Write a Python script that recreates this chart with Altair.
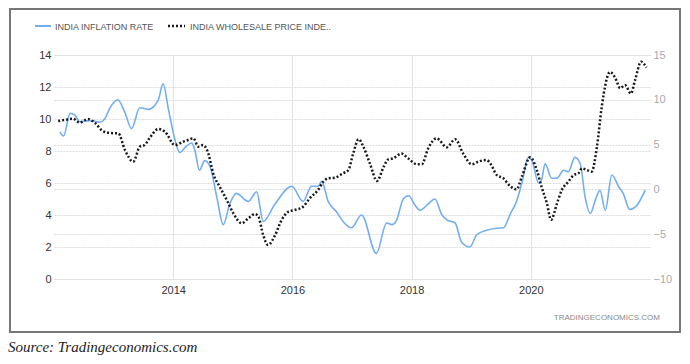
import altair as alt
import pandas as pd

# India inflation rate (CPI, %), left axis
cpi_year = [2012.10, 2012.16, 2012.27, 2012.35, 2012.43, 2012.60, 2012.77, 2012.85, 2012.94, 2013.07,
            2013.19, 2013.30, 2013.44, 2013.58, 2013.75, 2013.83, 2013.92, 2014.03, 2014.11, 2014.22,
            2014.31, 2014.36, 2014.44, 2014.53, 2014.62, 2014.73, 2014.84, 2014.95, 2015.06, 2015.26,
            2015.40, 2015.51, 2015.71, 2015.99, 2016.18, 2016.32, 2016.43, 2016.49, 2016.60, 2016.74,
            2016.85, 2016.99, 2017.16, 2017.41, 2017.58, 2017.67, 2017.75, 2017.86, 2017.95, 2018.06,
            2018.14, 2018.28, 2018.39, 2018.51, 2018.59, 2018.73, 2018.84, 2018.98, 2019.09, 2019.26,
            2019.43, 2019.54, 2019.66, 2019.76, 2019.85, 2019.96, 2020.02, 2020.13, 2020.18, 2020.24,
            2020.35, 2020.44, 2020.55, 2020.63, 2020.74, 2020.83, 2020.91, 2021.00, 2021.08, 2021.16,
            2021.25, 2021.36, 2021.47, 2021.55, 2021.66, 2021.78, 2021.92]
cpi_value = [9.2, 8.94, 10.35, 10.25, 9.83, 9.9, 9.8, 10.0, 10.7, 11.2,
             10.4, 9.4, 10.7, 10.6, 11.2, 12.2, 10.6, 8.7, 7.9, 8.3,
             8.5, 8.1, 6.8, 7.4, 7.0, 5.15, 3.4, 4.7, 5.35, 4.85,
             5.45, 3.6, 4.7, 5.8, 4.85, 5.8, 5.8, 6.1, 4.85, 4.2,
             3.6, 3.2, 4.0, 1.6, 3.5, 3.4, 3.7, 5.0, 5.2, 4.6,
             4.3, 4.7, 5.0, 4.0, 3.7, 3.5, 2.3, 2.0, 2.75, 3.05,
             3.17, 3.2, 4.1, 4.85, 6.0, 7.6, 7.4, 6.0, 6.2, 7.2,
             6.3, 6.3, 6.8, 6.7, 7.6, 7.2, 5.15, 4.1, 4.9, 5.55,
             4.3, 6.5, 5.8, 5.35, 4.35, 4.6, 5.55]

# India wholesale price index inflation (%), right axis
wpi_year = [2012.07, 2012.18, 2012.32, 2012.43, 2012.57, 2012.69, 2012.82, 2012.94, 2013.08, 2013.19,
            2013.33, 2013.44, 2013.52, 2013.61, 2013.75, 2013.86, 2014.03, 2014.17, 2014.22, 2014.34,
            2014.42, 2014.50, 2014.59, 2014.67, 2014.78, 2014.90, 2015.01, 2015.15, 2015.26, 2015.37,
            2015.43, 2015.51, 2015.59, 2015.71, 2015.82, 2015.93, 2016.04, 2016.18, 2016.29, 2016.43,
            2016.52, 2016.60, 2016.71, 2016.85, 2016.94, 2017.02, 2017.11, 2017.19, 2017.30, 2017.42,
            2017.53, 2017.61, 2017.69, 2017.83, 2017.94, 2018.09, 2018.17, 2018.28, 2018.42, 2018.59,
            2018.73, 2018.87, 2019.01, 2019.12, 2019.26, 2019.32, 2019.43, 2019.54, 2019.65, 2019.76,
            2019.85, 2019.99, 2020.10, 2020.18, 2020.27, 2020.34, 2020.44, 2020.52, 2020.63, 2020.72,
            2020.80, 2020.86, 2020.94, 2021.02, 2021.11, 2021.19, 2021.33, 2021.42, 2021.50, 2021.58,
            2021.68, 2021.75, 2021.85, 2021.94]
wpi_value = [7.63, 7.75, 7.9, 7.45, 7.85, 7.4, 6.5, 6.3, 6.25, 4.4,
             3.1, 4.77, 4.95, 5.8, 6.74, 6.45, 4.95, 5.33, 5.44, 5.7,
             4.77, 4.95, 4.0, 1.8, 0.3, -1.2, -2.67, -3.78, -3.23, -2.75,
             -3.05, -5.1, -6.2, -5.1, -3.4, -2.5, -2.3, -1.93, -1.0, -0.07,
             0.86, 1.24, 1.3, 1.8, 2.17, 4.0, 5.6, 4.77, 2.9, 0.94,
             2.5, 3.36, 3.47, 4.0, 3.47, 2.8, 2.8, 4.6, 5.7, 4.7,
             5.6, 3.95, 2.8, 3.1, 3.28, 2.9, 1.6, 1.24, 0.38, 0.0,
             1.42, 3.58, 2.17, 0.3, -1.55, -3.4, -1.55, -0.07, 0.86, 1.6,
             1.8, 2.35, 2.17, 1.98, 4.77, 9.2, 13.1, 12.4, 11.3, 11.65,
             10.7, 12.2, 14.25, 13.6]

x_ticks = [2014, 2016, 2018, 2020]
left_ticks = [0, 2, 4, 6, 8, 10, 12, 14]
right_ticks = [-10, -5, 0, 5, 10, 15]
series_names = ["INDIA INFLATION RATE", "INDIA WHOLESALE PRICE INDE.."]
source_text = "Source: Tradingeconomics.com"
brand_text = "TRADINGECONOMICS.COM"

BLUE = "#72aef0"
BLACK = "#1a1a1a"
FONT = "Liberation Sans"

cpi = pd.DataFrame({"year": cpi_year, "value": cpi_value})
wpi = pd.DataFrame({"year": wpi_year, "value": wpi_value})

xscale = alt.Scale(domain=[2012, 2022], nice=False, zero=False)
xaxis = alt.Axis(values=x_ticks, format="d", title=None, domain=False, ticks=False,
                 grid=True, gridColor="#e3e3e3", gridWidth=1,
                 labelFont=FONT, labelFontSize=11, labelColor="#333333",
                 labelPadding=5)

blue = alt.Chart(cpi).mark_line(color=BLUE, strokeWidth=1.6, interpolate="monotone").encode(
    x=alt.X("year:Q", scale=xscale, axis=xaxis),
    y=alt.Y("value:Q", scale=alt.Scale(domain=[0, 14], nice=False),
            axis=alt.Axis(orient="left", values=left_ticks, title=None, domain=False, ticks=False,
                          grid=True, gridColor="#dcdcdc", gridDash=[2, 1], gridWidth=1,
                          labelFont=FONT, labelFontSize=11, labelColor="#333333",
                          labelPadding=3)),
)

black = alt.Chart(wpi).mark_line(color=BLACK, strokeWidth=2.5, strokeDash=[2, 2],
                                 interpolate="monotone").encode(
    x=alt.X("year:Q", scale=xscale, axis=xaxis),
    y=alt.Y("value:Q", scale=alt.Scale(domain=[-10, 15], nice=False),
            axis=alt.Axis(orient="right", values=right_ticks, title=None, domain=False, ticks=False,
                          grid=True, gridColor="#dcdcdc", gridDash=[2, 1], gridWidth=1,
                          labelFont=FONT, labelFontSize=11, labelColor="#aaaaaa",
                          labelPadding=3)),
)

one = alt.Data(values=[{}])

border = alt.Chart(one).mark_rect(fillOpacity=0, stroke="#777777", strokeWidth=2).encode(
    x=alt.value(-44), x2=alt.value(626), y=alt.value(-46), y2=alt.value(277))

leg1_line = alt.Chart(one).mark_rule(color=BLUE, strokeWidth=2).encode(
    x=alt.value(-19), x2=alt.value(-3), y=alt.value(-29))
leg1_text = alt.Chart(one).mark_text(align="left", baseline="middle", font=FONT, fontSize=9,
                                     color="#555555").encode(
    x=alt.value(1), y=alt.value(-28), text=alt.value(series_names[0]))
leg2_line = alt.Chart(one).mark_rule(color=BLACK, strokeWidth=2.5, strokeDash=[2, 2]).encode(
    x=alt.value(114), x2=alt.value(131), y=alt.value(-29))
leg2_text = alt.Chart(one).mark_text(align="left", baseline="middle", font=FONT, fontSize=9,
                                     color="#555555").encode(
    x=alt.value(136), y=alt.value(-28), text=alt.value(series_names[1]))

brand = alt.Chart(one).mark_text(align="right", baseline="middle", font=FONT, fontSize=8,
                                 color="#8a8a8a").encode(
    x=alt.value(606), y=alt.value(263), text=alt.value(brand_text))

source = alt.Chart(one).mark_text(align="left", baseline="middle", font="Liberation Serif",
                                  fontStyle="italic", fontSize=15, color="#222222").encode(
    x=alt.value(-46), y=alt.value(292), text=alt.value(source_text))

chart = alt.layer(border, blue, black, leg1_line, leg1_text, leg2_line, leg2_text, brand, source
                  ).resolve_scale(y="independent").properties(
    width=596, height=224,
    padding={"left": 46, "top": 47, "right": 32, "bottom": 77},
    autosize=alt.AutoSizeParams(type="none"),
    background="white",
).configure_view(stroke=None)

chart.save("out.html", embed_options={"renderer": "svg", "actions": False})
